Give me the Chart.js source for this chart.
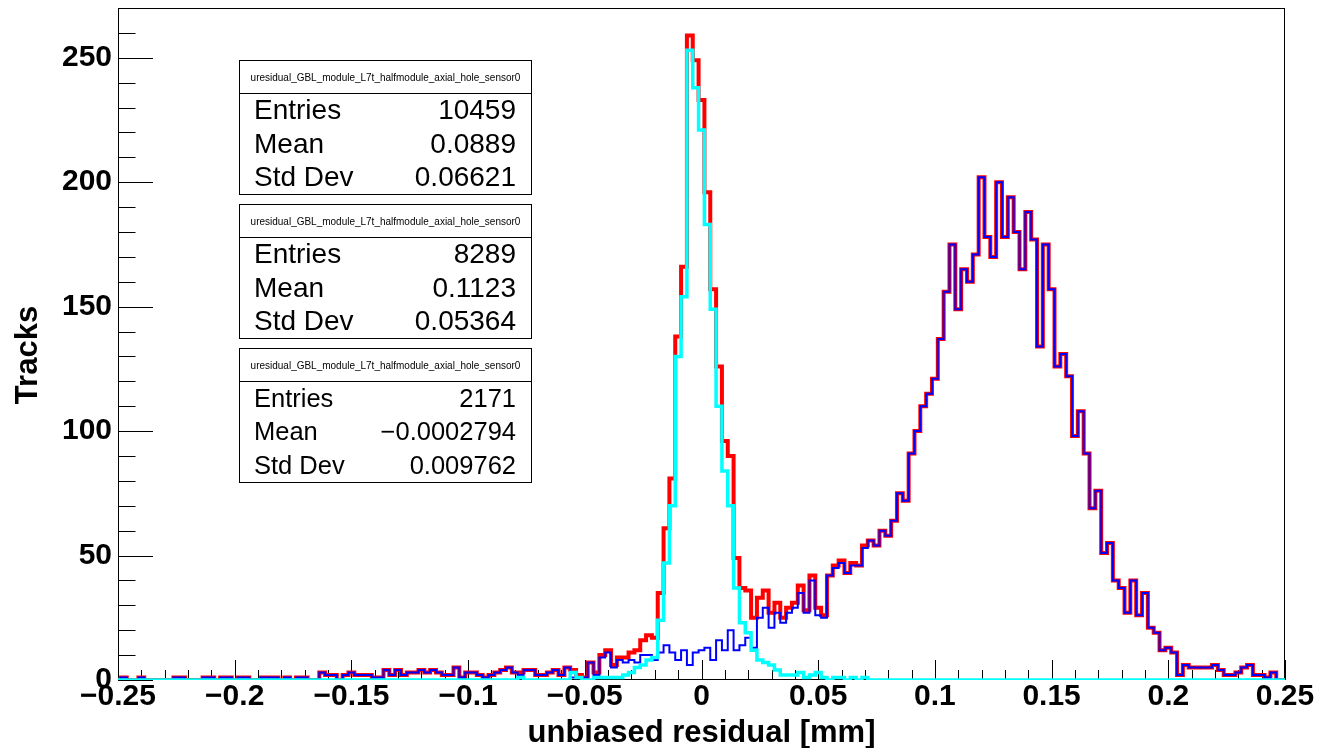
<!DOCTYPE html>
<html>
<head>
<meta charset="utf-8">
<script src="https://cdn.jsdelivr.net/npm/chart.js@4.4.0/dist/chart.umd.min.js"></script>
<style>
  html, body { margin: 0; padding: 0; background: #fff; }
  canvas { display: block; }
</style>
</head>
<body>
<canvas id="c" width="1320" height="748"></canvas>
<script>
// histogram binning: bin j is centred on binStart + j * binWidth
const binStart = -0.25;
const binWidth = 0.0025;

// red: all tracks
const totalCounts = [
  0,1,0,0,1,0,0,0,0,0,
  1,1,0,0,0,1,1,0,1,1,
  0,1,1,0,0,1,1,1,0,1,
  0,1,1,0,0,3,2,2,0,2,
  3,2,2,2,1,1,4,2,4,2,
  3,3,4,3,4,3,2,2,5,1,
  3,3,2,1,2,3,4,5,3,3,
  4,4,2,2,3,4,2,5,4,2,
  1,7,3,10,12,6,9,9,11,12,
  16,18,17,35,61,81,138,166,259,249,
  233,196,157,126,96,90,49,37,36,25,
  33,36,27,31,25,29,31,38,28,42,
  29,26,42,46,48,43,47,46,54,56,
  54,60,58,64,75,72,91,100,110,115,
  121,137,156,175,149,165,160,171,202,178,
  170,200,178,194,180,165,188,177,134,175,
  157,126,131,122,98,108,91,69,76,51,
  55,40,37,27,40,26,35,21,19,12,
  13,11,2,6,5,5,5,5,6,4,
  2,2,3,5,6,2,2,1,3,0,
  0
];

// blue: broad component
const otherCounts = [
  0,1,0,0,1,0,0,0,0,0,
  1,1,0,0,0,1,1,0,1,1,
  0,1,1,0,0,1,1,1,0,1,
  0,1,1,0,0,3,2,2,0,2,
  3,2,2,2,1,1,4,2,4,2,
  3,3,4,3,4,3,2,2,5,1,
  3,3,2,1,2,3,4,5,3,2,
  4,4,2,2,3,4,2,5,1,1,
  1,7,2,9,11,5,8,7,8,7,
  10,10,8,11,14,11,8,12,6,11,
  12,13,8,16,12,20,12,14,17,13,
  25,29,21,27,23,27,29,35,27,40,
  26,25,42,45,47,43,46,46,53,56,
  54,60,58,64,75,72,91,100,110,115,
  121,137,156,175,149,165,160,171,202,178,
  170,200,178,194,180,165,188,177,134,175,
  157,126,131,122,98,108,91,69,76,51,
  55,40,37,27,40,26,35,21,19,12,
  13,11,2,6,5,5,5,5,6,4,
  2,2,3,5,6,2,2,1,3,0,
  0
];

// cyan: narrow core
const coreCounts = [
  0,0,0,0,0,0,0,0,0,0,
  0,0,0,0,0,0,0,0,0,0,
  0,0,0,0,0,0,0,0,0,0,
  0,0,0,0,0,0,0,0,0,0,
  0,0,0,0,0,0,0,0,0,0,
  0,0,0,0,0,0,0,0,0,0,
  0,0,0,0,0,0,0,0,0,1,
  0,0,0,0,0,0,0,0,3,1,
  0,0,1,1,1,1,1,2,3,5,
  6,8,9,24,47,70,130,154,253,238,
  221,183,149,110,84,70,37,23,19,12,
  8,7,6,4,2,2,2,3,1,2,
  3,1,0,1,1,0,1,0,1,0,
  0,0,0,0,0,0,0,0,0,0,
  0,0,0,0,0,0,0,0,0,0,
  0,0,0,0,0,0,0,0,0,0,
  0,0,0,0,0,0,0,0,0,0,
  0,0,0,0,0,0,0,0,0,0,
  0,0,0,0,0,0,0,0,0,0,
  0,0,0,0,0,0,0,0,0,0,
  0
];

const xMajorTicks = [-0.25, -0.2, -0.15, -0.1, -0.05, 0, 0.05, 0.1, 0.15, 0.2, 0.25];
const yMajorTicks = [0, 50, 100, 150, 200, 250];
const xMinorStep = 0.01;
const yMinorStep = 10;

const xTitle = 'unbiased residual [mm]';
const yTitle = 'Tracks';

const statsName = 'uresidual_GBL_module_L7t_halfmodule_axial_hole_sensor0';
const statsLabels = ['Entries', 'Mean', 'Std Dev'];
const statsTotal = ['10459', '0.0889', '0.06621'];
const statsOther = ['8289', '0.1123', '0.05364'];
const statsCore = ['2171', '\u22120.0002794', '0.009762'];

const FONT = "'Liberation Sans', Arial, Helvetica, sans-serif";

function toPoints(counts) {
  return counts.map((c, j) => ({ x: binStart + j * binWidth, y: c }));
}

function fmtTick(v) {
  const s = String(Math.round(v * 1000) / 1000);
  return s.replace('-', '\u2212');
}

const rootStyle = {
  id: 'rootStyle',
  beforeDatasetsDraw(chart) {
    const { ctx, chartArea: a, scales: { x, y } } = chart;
    ctx.save();
    ctx.strokeStyle = '#000';
    ctx.lineWidth = 1;
    ctx.strokeRect(a.left + 0.5, a.top + 0.5, a.right - a.left - 1, a.bottom - a.top - 1);
    ctx.beginPath();
    // x ticks, pointing up into the frame
    const nx = Math.round((x.max - x.min) / xMinorStep);
    for (let k = 0; k <= nx; k++) {
      const v = x.min + k * xMinorStep;
      const px = Math.round(x.getPixelForValue(v)) + 0.5;
      const len = k % 5 === 0 ? 20 : 10;
      ctx.moveTo(px, a.bottom);
      ctx.lineTo(px, a.bottom - len);
    }
    // y ticks, pointing right into the frame
    for (let v = 0; v <= y.max; v += yMinorStep) {
      const py = Math.round(y.getPixelForValue(v)) + 0.5;
      const len = v % 50 === 0 ? 35 : 17.5;
      ctx.moveTo(a.left, py);
      ctx.lineTo(a.left + len, py);
    }
    ctx.stroke();
    ctx.restore();
  },
  afterDraw(chart) {
    const { ctx, chartArea: a } = chart;
    ctx.save();
    ctx.fillStyle = '#000';

    // axis titles
    ctx.font = 'bold 31px ' + FONT;
    ctx.textAlign = 'center';
    ctx.textBaseline = 'middle';
    ctx.fillText(xTitle, (a.left + a.right) / 2, 733);
    ctx.translate(28, 355);
    ctx.rotate(-Math.PI / 2);
    ctx.fillText(yTitle, 0, 0);
    ctx.setTransform(1, 0, 0, 1, 0, 0);

    // stats boxes
    const boxes = [
      { top: 60.5, vals: statsTotal, size: 28 },
      { top: 204.5, vals: statsOther, size: 28 },
      { top: 348.5, vals: statsCore, size: 25.5 }
    ];
    const left = 239.5, w = 292, h = 134, head = 33;
    boxes.forEach(b => {
      ctx.fillStyle = '#fff';
      ctx.fillRect(left, b.top, w, h);
      ctx.strokeStyle = '#000';
      ctx.lineWidth = 1;
      ctx.strokeRect(left, b.top, w, h);
      ctx.beginPath();
      ctx.moveTo(left, b.top + head);
      ctx.lineTo(left + w, b.top + head);
      ctx.stroke();

      ctx.fillStyle = '#000';
      ctx.textBaseline = 'middle';
      ctx.font = '11px ' + FONT;
      const tw = ctx.measureText(statsName).width;
      const ts = 11 * 270 / tw;
      ctx.font = ts.toFixed(2) + 'px ' + FONT;
      ctx.textAlign = 'center';
      ctx.fillText(statsName, left + w / 2, b.top + 17.5);

      ctx.font = b.size + 'px ' + FONT;
      const rows = [51, 84.5, 118];
      statsLabels.forEach((lab, i) => {
        ctx.textAlign = 'left';
        ctx.fillText(lab, 254, b.top + rows[i]);
        ctx.textAlign = 'right';
        ctx.fillText(b.vals[i], 516, b.top + rows[i]);
      });
    });
    ctx.restore();
  }
};

const tickFont = { family: FONT, weight: 'bold', size: 30 };

new Chart(document.getElementById('c'), {
  type: 'line',
  data: {
    datasets: [
      { label: 'core', data: toPoints(coreCounts), borderColor: '#00ffff', borderWidth: 3.5, stepped: 'middle', pointRadius: 0, fill: false, order: 1 },
      { label: 'other', data: toPoints(otherCounts), borderColor: '#0000ff', borderWidth: 2, stepped: 'middle', pointRadius: 0, fill: false, order: 2 },
      { label: 'total', data: toPoints(totalCounts), borderColor: '#ff0000', borderWidth: 4, stepped: 'middle', pointRadius: 0, fill: false, order: 3 }
    ]
  },
  options: {
    responsive: false,
    animation: false,
    devicePixelRatio: 1,
    parsing: false,
    layout: { padding: { left: 0, right: 35, top: 8, bottom: 0 } },
    plugins: { legend: { display: false }, tooltip: { enabled: false } },
    elements: { line: { tension: 0, borderJoinStyle: 'miter' }, point: { radius: 0 } },
    scales: {
      x: {
        type: 'linear',
        min: -0.25,
        max: 0.25,
        afterBuildTicks: s => { s.ticks = xMajorTicks.map(v => ({ value: v })); },
        afterFit: s => { s.height = 68; s.paddingLeft = 0; s.paddingRight = 0; },
        grid: { display: false, drawTicks: false },
        border: { display: false },
        ticks: { color: '#000', font: tickFont, padding: -1, maxRotation: 0, autoSkip: false, callback: fmtTick }
      },
      y: {
        type: 'linear',
        min: 0,
        max: 270,
        afterBuildTicks: s => { s.ticks = yMajorTicks.map(v => ({ value: v })); },
        afterFit: s => { s.width = 118; s.paddingTop = 0; s.paddingBottom = 0; },
        grid: { display: false, drawTicks: false },
        border: { display: false },
        ticks: { color: '#000', font: tickFont, padding: 6, autoSkip: false }
      }
    }
  },
  plugins: [rootStyle]
});
</script>
</body>
</html>
